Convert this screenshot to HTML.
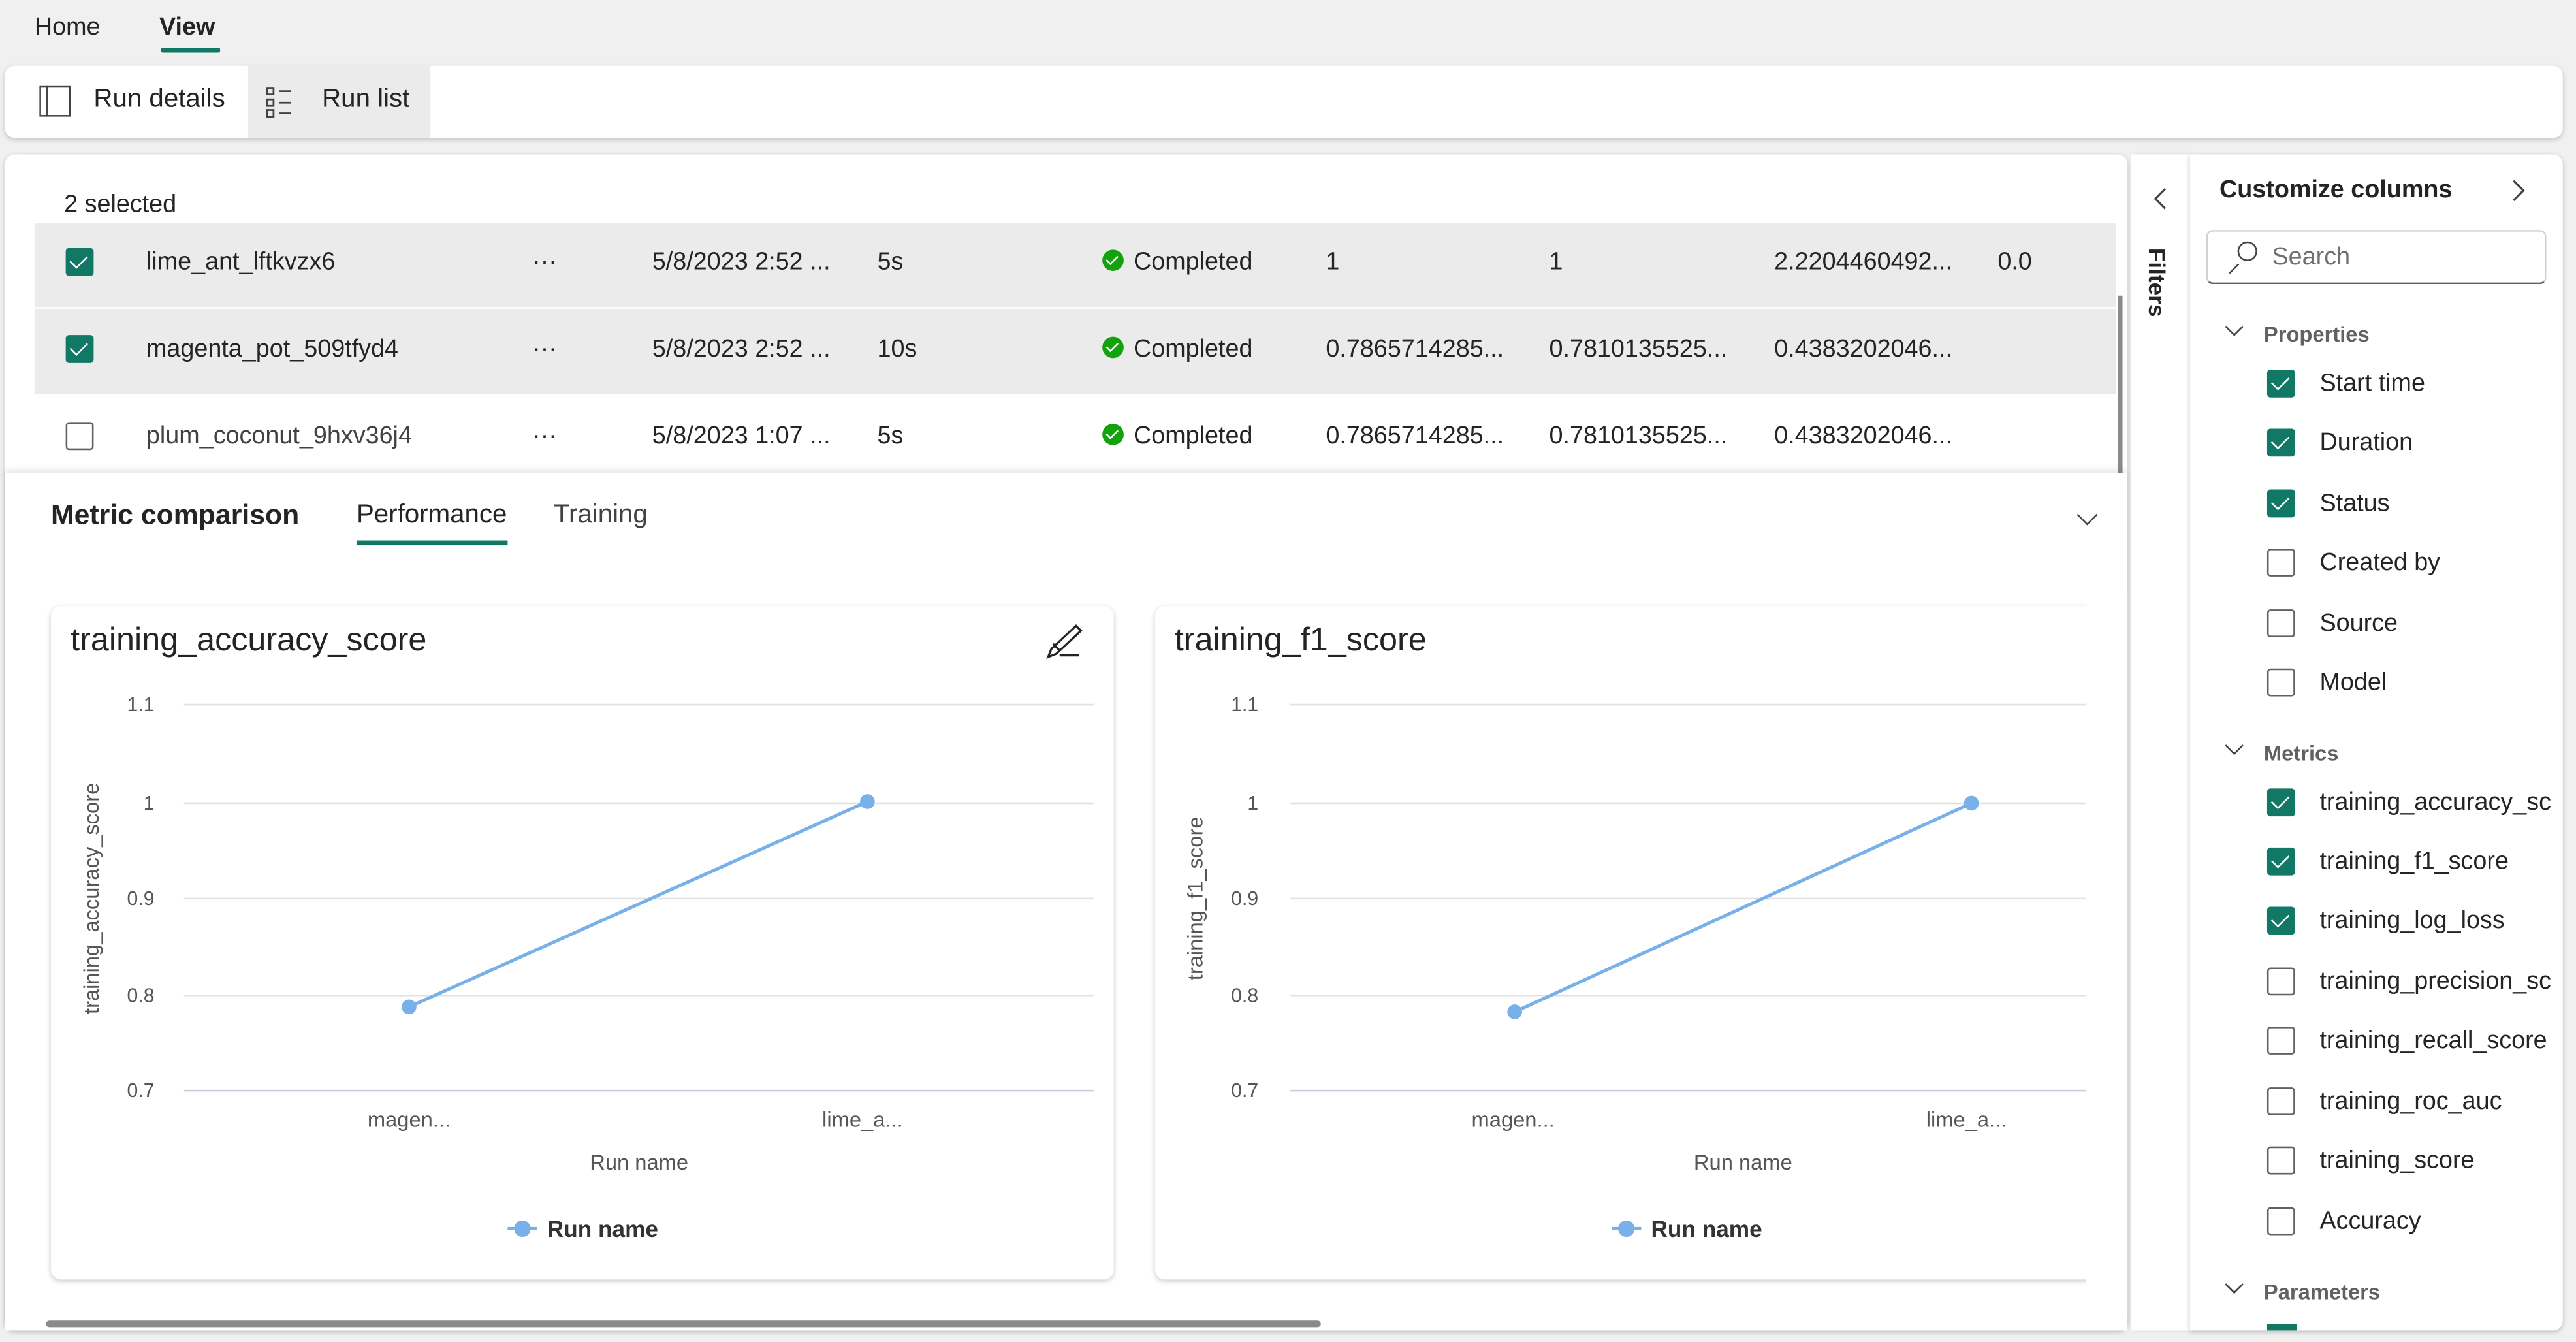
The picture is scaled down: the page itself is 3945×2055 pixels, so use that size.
<!DOCTYPE html>
<html><head><meta charset="utf-8"><style>
html,body{margin:0;padding:0;width:3945px;height:2055px;overflow:hidden;background:#f0f0f0}
#w{position:absolute;left:0;top:0;width:1568px;height:817px;transform:scale(2.5159,2.5153);transform-origin:0 0;font-family:"Liberation Sans",sans-serif;color:#242424;font-size:15px}
.a{position:absolute;white-space:nowrap}
.cb{position:absolute;width:15px;height:15px;border:1px solid #616161;border-radius:2px;background:#fff}
.cb.on{background:#117865;border-color:#117865}
.cb.on:after{content:"";position:absolute;left:4px;top:1px;width:5px;height:9px;border:solid #fff;border-width:0 1.6px 1.6px 0;transform:rotate(45deg)}
.ok{position:absolute;width:13px;height:13px;border-radius:50%;background:#13a10e}
.ok:after{content:"";position:absolute;left:4px;top:2px;width:3px;height:6px;border:solid #fff;border-width:0 1.5px 1.5px 0;transform:rotate(45deg)}
.card{position:absolute;background:#fff;border-radius:6px;box-shadow:0 1px 3px rgba(0,0,0,.2)}
</style></head><body><div id="w">
<div class="a" style="left:21px;top:8px;font-size:15px">Home</div>
<div class="a" style="left:97px;top:8px;font-size:15px;font-weight:bold">View</div>
<div class="a" style="left:98px;top:29px;width:36px;height:3px;background:#117865;border-radius:1px"></div>

<div class="card" style="left:3px;top:40px;width:1557px;height:44px"></div>
<div class="a" style="left:151px;top:40px;width:111px;height:44px;background:#ebebeb"></div>
<div class="a" style="left:24px;top:52px;width:19px;height:19px;border:1px solid #424242;box-sizing:border-box"></div>
<div class="a" style="left:28px;top:52px;width:1px;height:19px;background:#424242"></div>
<div class="a" style="left:57px;top:52px;font-size:16px">Run details</div>
<svg class="a" style="left:161px;top:52px" width="18" height="20"><g fill="none" stroke="#424242" stroke-width="1.1"><rect x="1.5" y="1.5" width="4" height="4"/><rect x="1.5" y="8.5" width="4" height="4"/><rect x="1.5" y="15" width="4" height="4"/><line x1="9" x2="16" y1="3.5" y2="3.5"/><line x1="9" x2="16" y1="10.5" y2="10.5"/><line x1="9" x2="16" y1="17" y2="17"/></g></svg>
<div class="a" style="left:196px;top:52px;font-size:16px">Run list</div>

<div class="card" style="left:3px;top:94px;width:1292px;height:716px"></div>
<div class="a" style="left:39px;top:116px">2 selected</div>
<div class="a" style="left:21px;top:136px;width:1267px;height:51px;background:#ebebeb"></div>
<div class="a" style="left:21px;top:188px;width:1267px;height:52px;background:#ebebeb"></div>
<div class="a" style="left:1289px;top:180px;width:3px;height:108px;background:#8a8a8a"></div>

<div class="cb on" style="left:40px;top:151px"></div>
<div class="cb on" style="left:40px;top:204px"></div>
<div class="cb" style="left:40px;top:257px"></div>
<div class="a" style="left:89px;top:151px">lime_ant_lftkvzx6</div>
<div class="a" style="left:89px;top:204px">magenta_pot_509tfyd4</div>
<div class="a" style="left:89px;top:257px;color:#424242">plum_coconut_9hxv36j4</div>
<div class="a" style="left:324px;top:151px">···</div>
<div class="a" style="left:324px;top:204px">···</div>
<div class="a" style="left:324px;top:257px">···</div>
<div class="a" style="left:397px;top:151px">5/8/2023 2:52 ...</div>
<div class="a" style="left:397px;top:204px">5/8/2023 2:52 ...</div>
<div class="a" style="left:397px;top:257px">5/8/2023 1:07 ...</div>
<div class="a" style="left:534px;top:151px">5s</div>
<div class="a" style="left:534px;top:204px">10s</div>
<div class="a" style="left:534px;top:257px">5s</div>
<div class="ok" style="left:671px;top:152px"></div><div class="a" style="left:690px;top:151px">Completed</div>
<div class="ok" style="left:671px;top:205px"></div><div class="a" style="left:690px;top:204px">Completed</div>
<div class="ok" style="left:671px;top:258px"></div><div class="a" style="left:690px;top:257px">Completed</div>
<div class="a" style="left:807px;top:151px">1</div><div class="a" style="left:943px;top:151px">1</div><div class="a" style="left:1080px;top:151px">2.2204460492...</div><div class="a" style="left:1216px;top:151px">0.0</div>
<div class="a" style="left:807px;top:204px">0.7865714285...</div><div class="a" style="left:943px;top:204px">0.7810135525...</div><div class="a" style="left:1080px;top:204px">0.4383202046...</div>
<div class="a" style="left:807px;top:257px">0.7865714285...</div><div class="a" style="left:943px;top:257px">0.7810135525...</div><div class="a" style="left:1080px;top:257px">0.4383202046...</div>

<div class="a" style="left:3px;top:288px;width:1292px;height:522px;background:#fff;box-shadow:0 -2px 4px rgba(0,0,0,.1)"></div>
<div class="a" style="left:31px;top:304px;font-size:17px;font-weight:bold">Metric comparison</div>
<div class="a" style="left:217px;top:305px;font-size:16px">Performance</div>
<div class="a" style="left:217px;top:329px;width:92px;height:3px;background:#117865"></div>
<div class="a" style="left:337px;top:305px;font-size:16px;color:#424242">Training</div>
<div class="a" style="left:1266px;top:309px;width:8px;height:8px;border:solid #424242;border-width:0 1.4px 1.4px 0;transform:rotate(45deg)"></div>

<div class="card" style="left:31px;top:369px;width:647px;height:410px"></div>
<div class="card" style="left:703px;top:369px;width:580px;height:410px"></div>
<div class="a" style="left:1270px;top:360px;width:25px;height:440px;background:#fff"></div>

<svg class="a" style="left:0;top:0" width="1568" height="817" font-family="Liberation Sans,sans-serif">
<text x="43" y="396" font-size="20" fill="#242424">training_accuracy_score</text>
<text x="715" y="396" font-size="20" fill="#242424">training_f1_score</text>
<path d="M640 395l15-14 3 3-15 14-5 2z M641 392l4 4 M645 399h12" fill="none" stroke="#242424" stroke-width="1.3"/>
<g stroke="#e0e0e0" stroke-width="1">
<line x1="112" x2="666" y1="429" y2="429"/><line x1="112" x2="666" y1="489" y2="489"/><line x1="112" x2="666" y1="547" y2="547"/><line x1="112" x2="666" y1="606" y2="606"/>
<line x1="785" x2="1270" y1="429" y2="429"/><line x1="785" x2="1270" y1="489" y2="489"/><line x1="785" x2="1270" y1="547" y2="547"/><line x1="785" x2="1270" y1="606" y2="606"/>
</g>
<line x1="112" x2="666" y1="664" y2="664" stroke="#cdc9dc"/>
<line x1="785" x2="1270" y1="664" y2="664" stroke="#cdc9dc"/>
<g font-size="12" fill="#555" text-anchor="end">
<text x="94" y="433">1.1</text><text x="94" y="493">1</text><text x="94" y="551">0.9</text><text x="94" y="610">0.8</text><text x="94" y="668">0.7</text>
<text x="766" y="433">1.1</text><text x="766" y="493">1</text><text x="766" y="551">0.9</text><text x="766" y="610">0.8</text><text x="766" y="668">0.7</text>
</g>
<g font-size="13" fill="#555" text-anchor="middle">
<text x="249" y="686">magen...</text><text x="525" y="686">lime_a...</text>
<text x="921" y="686">magen...</text><text x="1197" y="686">lime_a...</text>
<text x="389" y="712">Run name</text><text x="1061" y="712">Run name</text>
<text transform="translate(60,547) rotate(-90)">training_accuracy_score</text>
<text transform="translate(732,547) rotate(-90)">training_f1_score</text>
</g>
<g stroke="#78b0ea" stroke-width="2" fill="#78b0ea">
<line x1="249" y1="613" x2="528" y2="488"/><circle cx="249" cy="613" r="3.5"/><circle cx="528" cy="488" r="3.5"/>
<line x1="922" y1="616" x2="1200" y2="489"/><circle cx="922" cy="616" r="3.5"/><circle cx="1200" cy="489" r="3.5"/>
<line x1="309" y1="748" x2="327" y2="748"/><circle cx="318" cy="748" r="4"/>
<line x1="981" y1="748" x2="999" y2="748"/><circle cx="990" cy="748" r="4"/>
</g>
<g font-size="14" font-weight="bold" fill="#333"><text x="333" y="753">Run name</text><text x="1005" y="753">Run name</text></g>
<line x1="30" x2="802" y1="806" y2="806" stroke="#8a8a8a" stroke-width="4" stroke-linecap="round"/>
</svg>

<div class="a" style="left:1297px;top:94px;width:36px;height:716px;background:#fff;box-shadow:1px 0 3px rgba(0,0,0,.08)"></div>
<svg class="a" style="left:1309px;top:114px" width="12" height="14"><path d="M9 1L3 7l6 6" fill="none" stroke="#424242" stroke-width="1.3"/></svg>
<div class="a" style="left:1292px;top:164px;font-size:14px;font-weight:bold;transform:rotate(90deg);transform-origin:center">Filters</div>

<div class="card" style="left:1333px;top:94px;width:227px;height:716px;border-radius:0 6px 6px 0"></div>
<div class="a" style="left:1351px;top:107px;font-size:15px;font-weight:bold">Customize columns</div>
<svg class="a" style="left:1527px;top:109px" width="12" height="14"><path d="M3 1l6 6-6 6" fill="none" stroke="#424242" stroke-width="1.3"/></svg>
<div class="a" style="left:1343px;top:140px;width:207px;height:33px;border:1px solid #d1d1d1;border-bottom-color:#616161;border-radius:4px;box-sizing:border-box"></div>
<div class="a" style="left:1362px;top:147px;width:10px;height:10px;border:1.3px solid #424242;border-radius:50%"></div>
<div class="a" style="left:1356px;top:163px;width:8px;height:1.3px;background:#424242;transform:rotate(-45deg)"></div>
<div class="a" style="left:1383px;top:148px;color:#707070;font-size:15px">Search</div>

<div class="a" style="left:1356px;top:195px;width:7px;height:7px;border:solid #424242;border-width:0 1.4px 1.4px 0;transform:rotate(45deg)"></div>
<div class="a" style="left:1378px;top:196px;font-size:13px;font-weight:bold;color:#616161">Properties</div>
<div class="a" style="left:1356px;top:450px;width:7px;height:7px;border:solid #424242;border-width:0 1.4px 1.4px 0;transform:rotate(45deg)"></div>
<div class="a" style="left:1378px;top:451px;font-size:13px;font-weight:bold;color:#616161">Metrics</div>
<div class="a" style="left:1356px;top:778px;width:7px;height:7px;border:solid #424242;border-width:0 1.4px 1.4px 0;transform:rotate(45deg)"></div>
<div class="a" style="left:1378px;top:779px;font-size:13px;font-weight:bold;color:#616161">Parameters</div>

<div class="cb on" style="left:1380px;top:225px"></div><div class="a" style="left:1412px;top:225px">Start time</div>
<div class="cb on" style="left:1380px;top:261px"></div><div class="a" style="left:1412px;top:261px">Duration</div>
<div class="cb on" style="left:1380px;top:298px"></div><div class="a" style="left:1412px;top:298px">Status</div>
<div class="cb" style="left:1380px;top:334px"></div><div class="a" style="left:1412px;top:334px">Created by</div>
<div class="cb" style="left:1380px;top:371px"></div><div class="a" style="left:1412px;top:371px">Source</div>
<div class="cb" style="left:1380px;top:407px"></div><div class="a" style="left:1412px;top:407px">Model</div>
<div class="a" style="left:1340px;top:470px;width:213px;height:300px;overflow:hidden">
<div class="cb on" style="left:40px;top:10px"></div><div class="a" style="left:72px;top:10px">training_accuracy_score</div>
<div class="cb on" style="left:40px;top:46px"></div><div class="a" style="left:72px;top:46px">training_f1_score</div>
<div class="cb on" style="left:40px;top:82px"></div><div class="a" style="left:72px;top:82px">training_log_loss</div>
<div class="cb" style="left:40px;top:119px"></div><div class="a" style="left:72px;top:119px">training_precision_score</div>
<div class="cb" style="left:40px;top:155px"></div><div class="a" style="left:72px;top:155px">training_recall_score</div>
<div class="cb" style="left:40px;top:192px"></div><div class="a" style="left:72px;top:192px">training_roc_auc</div>
<div class="cb" style="left:40px;top:228px"></div><div class="a" style="left:72px;top:228px">training_score</div>
<div class="cb" style="left:40px;top:265px"></div><div class="a" style="left:72px;top:265px">Accuracy</div>
</div>
<div class="a" style="left:1380px;top:806px;width:18px;height:4px;background:#117865"></div>
</div></body></html>
